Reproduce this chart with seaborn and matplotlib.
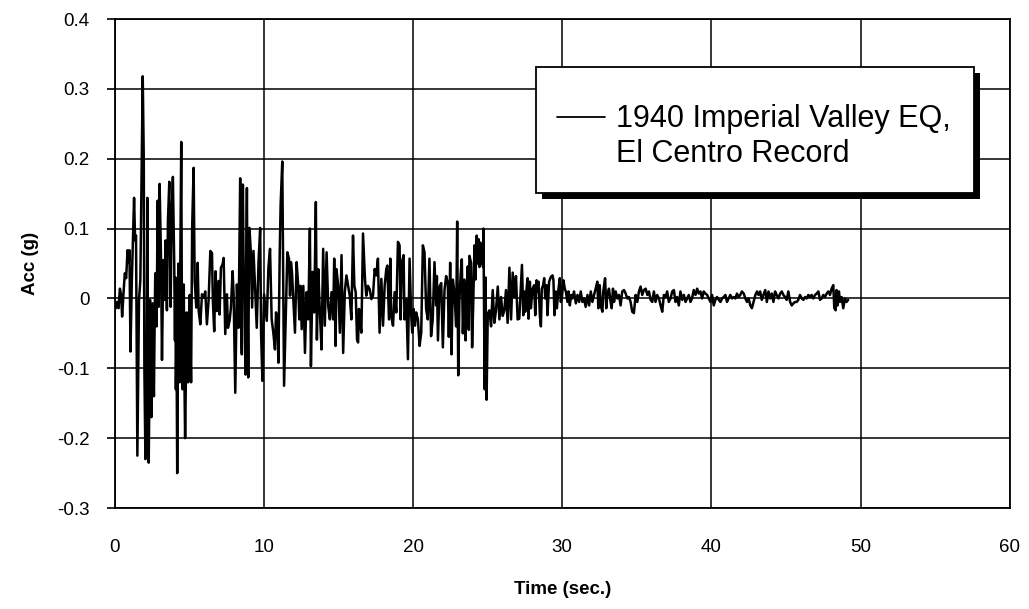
import matplotlib
matplotlib.use("Agg")
import matplotlib.pyplot as plt
import pandas as pd
import seaborn as sns
from matplotlib.lines import Line2D
from matplotlib.patches import Rectangle

# ---------------- data ----------------
# strong-motion phase, 0 - 5.2 s
T_0_5 = [0.00, 0.09, 0.18, 0.27, 0.36, 0.44, 0.51, 0.60, 0.69, 0.78, 0.87, 0.96, 1.00, 1.07, 1.16, 1.24, 1.31, 1.38, 1.44,
         1.53, 1.64, 1.73, 1.80, 1.89, 1.96, 2.00,
         2.07, 2.10, 2.13, 2.16, 2.20, 2.23, 2.26, 2.29, 2.33, 2.38, 2.42, 2.47, 2.51, 2.56, 2.60, 2.64, 2.68, 2.73,
         2.82, 2.89, 2.96, 3.02, 3.11, 3.18, 3.27, 3.36, 3.42, 3.51, 3.58, 3.67, 3.76, 3.82, 3.91, 4.00,
         4.05, 4.08, 4.11, 4.15, 4.20, 4.25, 4.29, 4.32, 4.36, 4.41, 4.47, 4.51, 4.56, 4.60, 4.64, 4.68, 4.73, 4.78,
         4.84, 4.88, 4.93, 4.98, 5.04, 5.08, 5.13, 5.20]
A_0_5 = [-0.002, -0.014, -0.005, -0.014, 0.014, 0.005, -0.026, 0.007, 0.036, 0.029, 0.069, 0.052, 0.069, -0.076, 0.026,
         0.088, 0.144, 0.083, 0.090,
         -0.225, -0.002, 0.026, 0.150, 0.318, 0.200, -0.100,
         -0.230, -0.180, -0.220, -0.050, 0.144, -0.100, -0.200, -0.235, -0.150, -0.002, -0.120, -0.170, -0.060, -0.007,
         -0.100, -0.140, -0.050, 0.036,
         -0.040, 0.140, -0.012, 0.164, 0.064, -0.088, 0.055, -0.002, 0.083, -0.017, 0.112, 0.167, -0.012, 0.112, 0.174,
         0.050,
         -0.060, 0.030, -0.130, -0.050, -0.250, -0.080, 0.050, -0.060, -0.120, 0.060, 0.224, 0.000, -0.130, -0.060,
         0.020, -0.110, -0.200, -0.120, -0.020, -0.080, -0.120, -0.040, 0.005, -0.060, -0.120, 0.100]

# 5.3 - 10.3 s
T_5_10 = [5.30, 5.37, 5.48, 5.57, 5.64, 5.75, 5.86, 5.97, 6.08, 6.19, 6.30,
          6.42, 6.53, 6.59, 6.68, 6.77, 6.86, 6.97, 7.04, 7.13, 7.24, 7.31,
          7.42, 7.53, 7.60, 7.71, 7.80, 7.91, 7.98, 8.09, 8.20, 8.31,
          8.42, 8.47, 8.53, 8.56, 8.60, 8.65, 8.71, 8.74, 8.78, 8.82, 8.87, 8.91, 8.96, 9.00, 9.04,
          9.13, 9.22, 9.31, 9.42, 9.53, 9.65, 9.76, 9.82, 9.91, 10.02, 10.11, 10.20, 10.31]
A_5_10 = [0.187, 0.025, -0.013, 0.051, -0.018, -0.037, 0.006, 0.001, 0.010, -0.037, -0.004,
          0.068, 0.065, -0.004, -0.047, 0.039, -0.018, 0.025, -0.023, 0.044, 0.049, 0.058,
          -0.051, 0.006, -0.042, -0.032, -0.013, 0.039, 0.006, -0.135, 0.020, -0.042,
          0.172, -0.020, -0.080, 0.050, 0.163, 0.040, 0.025, -0.060, -0.109, 0.050, 0.158, 0.000, -0.113, 0.020, 0.101,
          0.068, -0.013, 0.068, 0.015, -0.042, 0.053, 0.101, -0.051, -0.118, 0.006, -0.013, -0.032, 0.044]

# 10.4 - 15.7 s
T_10_15 = [10.42, 10.53, 10.64, 10.75, 10.82, 10.91, 10.98, 11.07, 11.13, 11.24, 11.36, 11.49, 11.58, 11.69,
           11.76, 11.82, 11.89, 11.98, 12.09, 12.20, 12.31, 12.38, 12.47, 12.54, 12.65, 12.76, 12.87, 12.98,
           13.09, 13.16, 13.27, 13.38, 13.49, 13.56, 13.65, 13.76, 13.87, 13.98, 14.09, 14.21, 14.32, 14.43,
           14.54, 14.65, 14.72, 14.81, 14.87, 14.99, 15.10, 15.21, 15.32, 15.43, 15.54, 15.65]
A_10_15 = [0.071, -0.030, -0.049, -0.073, -0.020, -0.030, -0.092, 0.066, 0.134, 0.196, -0.125, -0.011, 0.066, 0.057,
           0.004, 0.052, 0.038, -0.001, -0.049, 0.052, 0.018, -0.030, 0.018, -0.044, 0.018, -0.078, 0.009, -0.030,
           0.100, -0.097, 0.038, -0.020, 0.138, -0.059, 0.042, -0.020, -0.073, 0.071, -0.039, 0.066, -0.011, -0.030,
           0.009, -0.030, 0.057, -0.068, 0.042, 0.018, -0.049, 0.062, -0.078, 0.009, 0.033, 0.018]

# 15.8 - 21.6 s
T_15_21 = [15.76, 15.87, 15.98, 16.07, 16.16, 16.25, 16.32, 16.38, 16.43, 16.54, 16.65, 16.78, 16.87, 16.98,
           17.10, 17.21, 17.32, 17.43, 17.54, 17.65, 17.76, 17.88, 17.99, 18.10, 18.21, 18.28, 18.39, 18.48,
           18.54, 18.66, 18.77, 18.88, 18.99, 19.10, 19.17, 19.26, 19.37, 19.43, 19.55, 19.66, 19.77, 19.88,
           19.95, 20.04, 20.13, 20.21, 20.33, 20.44, 20.55, 20.66, 20.77, 20.88, 20.99, 21.10, 21.21, 21.32,
           21.44, 21.55]
A_15_21 = [0.004, -0.030, 0.090, 0.018, 0.009, -0.059, -0.063, -0.015, -0.030, -0.049, 0.093, 0.028, 0.004, 0.018,
           0.013, -0.001, 0.004, 0.042, 0.033, 0.057, -0.049, 0.028, -0.039, 0.018, 0.042, 0.047, -0.030, 0.057,
           -0.025, -0.039, 0.009, -0.020, 0.081, 0.076, -0.030, 0.052, 0.062, -0.030, -0.001, -0.087, 0.057, -0.025,
           -0.049, -0.015, -0.039, -0.020, -0.030, -0.068, -0.049, 0.076, 0.066, -0.015, -0.030, 0.057, -0.054, -0.030,
           0.052, -0.010]

# 21.6 - 27.0 s
T_21_27 = [21.60, 21.67, 21.78, 21.89, 22.00, 22.11, 22.22, 22.33, 22.40, 22.49, 22.58, 22.67, 22.78, 22.89,
           22.96, 23.03, 23.11, 23.20, 23.27, 23.34, 23.45, 23.52, 23.60, 23.67, 23.74, 23.78, 23.89, 23.96,
           24.03, 24.12, 24.18, 24.27, 24.33, 24.39, 24.45, 24.51, 24.57, 24.63, 24.69, 24.72, 24.80, 24.86,
           24.93, 25.01, 25.12, 25.23, 25.34, 25.45, 25.56, 25.68, 25.79, 25.90, 26.01, 26.12, 26.23, 26.34,
           26.46, 26.57, 26.68, 26.79, 26.90, 27.01]
A_21_27 = [0.032, -0.060, 0.017, 0.022, -0.070, 0.012, 0.032, 0.022, -0.055, 0.051, -0.080, 0.027, 0.007, -0.040,
           0.110, -0.110, -0.002, 0.037, 0.056, -0.050, 0.027, -0.060, 0.012, 0.046, -0.045, 0.061, 0.051, -0.070,
           -0.012, 0.076, 0.027, 0.090, 0.050, 0.085, 0.045, 0.080, 0.050, 0.075, 0.045, 0.100, -0.130, 0.030,
           -0.145, -0.022, -0.017, -0.040, 0.012, -0.035, -0.017, 0.017, -0.030, 0.002, -0.025, -0.017, 0.012, -0.035,
           0.044, -0.030, 0.037, 0.002, 0.032, -0.030]

# 27.1 - 35.0 s
T_27_35 = [27.12, 27.23, 27.30, 27.39, 27.45, 27.52, 27.61, 27.68, 27.74, 27.83, 27.90, 28.01, 28.12, 28.19,
           28.28, 28.34, 28.41, 28.50, 28.57, 28.63, 28.72, 28.79, 28.86, 28.95, 29.01, 29.12, 29.24, 29.35,
           29.41, 29.48, 29.57, 29.64, 29.75, 29.84, 29.90, 29.97, 30.08, 30.17, 30.24, 30.35, 30.42, 30.51,
           30.59, 30.68, 30.79, 30.91, 31.02, 31.13, 31.24, 31.35, 31.46, 31.57, 31.69, 31.80, 31.91, 32.02,
           32.13, 32.24, 32.35, 32.42, 32.51, 32.58, 32.69, 32.75, 32.87, 32.95, 33.02, 33.13, 33.24, 33.31,
           33.40, 33.47, 33.58, 33.69, 33.80, 33.91, 34.02, 34.14, 34.25, 34.36, 34.47, 34.58, 34.69, 34.80,
           34.92, 35.03]
A_27_35 = [-0.029, 0.019, 0.048, -0.024, 0.010, -0.019, 0.014, 0.029, -0.029, 0.024, -0.014, 0.014, 0.019, -0.024,
           0.026, 0.010, 0.024, -0.024, -0.040, 0.014, 0.019, 0.029, 0.000, 0.019, -0.024, 0.024, 0.031, 0.033,
           0.026, -0.024, 0.010, -0.014, 0.014, 0.029, -0.005, 0.000, 0.026, 0.014, 0.010, -0.005, 0.010, -0.010,
           0.005, 0.000, 0.010, -0.007, 0.005, -0.005, 0.010, -0.005, 0.000, -0.012, 0.005, -0.010, 0.010, -0.005,
           0.005, 0.014, 0.024, -0.014, 0.019, -0.010, -0.019, 0.010, 0.029, -0.014, 0.005, 0.014, -0.005, -0.014,
           0.014, -0.005, 0.010, 0.000, 0.005, -0.010, 0.010, 0.012, 0.007, 0.000, 0.002, -0.005, -0.019, -0.021,
           0.005, -0.005]

# 35.1 - 43.1 s
T_35_43 = [35.14, 35.25, 35.36, 35.47, 35.59, 35.70, 35.81, 35.92, 36.03, 36.14, 36.25, 36.36, 36.48, 36.59,
           36.70, 36.81, 36.92, 37.03, 37.14, 37.26, 37.37, 37.48, 37.59, 37.70, 37.81, 37.92, 38.04, 38.15,
           38.26, 38.37, 38.48, 38.59, 38.70, 38.81, 38.93, 39.04, 39.15, 39.26, 39.37, 39.48, 39.59, 39.71,
           39.82, 39.93, 40.04, 40.15, 40.26, 40.37, 40.49, 40.60, 40.71, 40.82, 40.93, 41.04, 41.15, 41.26,
           41.38, 41.49, 41.60, 41.71, 41.82, 41.93, 42.04, 42.16, 42.27, 42.38, 42.49, 42.60, 42.71, 42.82,
           42.94, 43.05]
A_35_43 = [0.010, 0.017, 0.005, 0.012, 0.014, 0.005, 0.010, -0.002, -0.005, 0.010, -0.005, 0.005, 0.000, -0.010,
           -0.019, 0.005, 0.002, 0.010, -0.005, 0.000, 0.010, 0.012, -0.005, 0.002, -0.010, 0.010, -0.002, 0.005,
           -0.005, 0.000, 0.005, -0.005, 0.000, 0.012, 0.005, 0.014, 0.007, 0.010, 0.000, 0.010, 0.007, 0.005,
           0.000, -0.005, 0.005, -0.010, -0.002, 0.002, -0.002, -0.005, 0.000, 0.002, 0.005, -0.005, 0.000, 0.005,
           0.000, 0.002, 0.000, 0.007, 0.002, 0.005, 0.010, 0.007, 0.000, -0.005, 0.000, -0.010, -0.014, -0.005,
           0.005, 0.010]

# 43.2 - 49.2 s
T_43_49 = [43.15, 43.26, 43.37, 43.48, 43.60, 43.71, 43.82, 43.93, 44.04, 44.15, 44.26, 44.37, 44.49, 44.60,
           44.71, 44.82, 44.93, 45.04, 45.15, 45.27, 45.38, 45.49, 45.60, 45.71, 45.82, 45.93, 46.05, 46.16,
           46.27, 46.38, 46.49, 46.60, 46.71, 46.82, 46.94, 47.05, 47.16, 47.27, 47.38, 47.49, 47.60, 47.72,
           47.83, 47.94, 48.05, 48.16, 48.23, 48.32, 48.38, 48.45, 48.54, 48.61, 48.72, 48.83, 48.94, 49.05,
           49.16]
A_43_49 = [0.005, 0.010, -0.002, 0.005, 0.012, -0.005, 0.010, 0.000, 0.007, -0.005, 0.010, 0.005, 0.000, 0.007,
           0.010, 0.005, 0.002, -0.002, 0.010, -0.005, -0.010, -0.007, -0.005, -0.005, -0.002, 0.005, 0.000, -0.002,
           0.002, 0.000, 0.005, 0.002, 0.005, 0.000, 0.005, 0.007, 0.010, -0.002, 0.000, 0.005, 0.002, 0.007,
           0.010, 0.005, 0.014, 0.019, -0.014, -0.017, 0.012, -0.010, 0.010, -0.005, 0.002, -0.014, 0.000, -0.005,
           -0.002]

X_TICKS = [0, 10, 20, 30, 40, 50, 60]
Y_TICKS = [-0.3, -0.2, -0.1, 0.0, 0.1, 0.2, 0.3, 0.4]
Y_TICK_LABELS = ["-0.3", "-0.2", "-0.1", "0", "0.1", "0.2", "0.3", "0.4"]
LEGEND_LINES = ["1940 Imperial Valley EQ,", "El Centro Record"]
X_LABEL = "Time (sec.)"
Y_LABEL = "Acc (g)"

segments = [(T_0_5, A_0_5), (T_5_10, A_5_10), (T_10_15, A_10_15), (T_15_21, A_15_21),
            (T_21_27, A_21_27), (T_27_35, A_27_35), (T_35_43, A_35_43), (T_43_49, A_43_49)]
time_s, acc_g = [], []
for t_seg, a_seg in segments:
    assert len(t_seg) == len(a_seg), (t_seg[0], len(t_seg), len(a_seg))
    time_s += t_seg
    acc_g += a_seg

# ---------------- style ----------------
sns.set_theme(style="white")
plt.rcParams["font.family"] = ["Liberation Sans", "DejaVu Sans"]
plt.rcParams["text.color"] = "black"
plt.rcParams["axes.labelcolor"] = "black"
plt.rcParams["xtick.color"] = "black"
plt.rcParams["ytick.color"] = "black"

fig = plt.figure(figsize=(10.29, 6.09), dpi=100)
fig.patch.set_facecolor("white")
ax = fig.add_axes([0.1113, 0.1658, 0.8702, 0.8030])

df = pd.DataFrame({"t": time_s, "acc": acc_g})
sns.lineplot(data=df, x="t", y="acc", ax=ax, color="black", linewidth=1.8,
             sort=False, estimator=None, legend=False)

ax.set_xlim(X_TICKS[0], X_TICKS[-1])
ax.set_ylim(Y_TICKS[0], Y_TICKS[-1])
ax.set_xticks(X_TICKS)
ax.set_xticklabels([str(v) for v in X_TICKS])
ax.set_yticks(Y_TICKS)
ax.set_yticklabels(Y_TICK_LABELS)
ax.set_axisbelow(True)
ax.grid(True, color="black", linewidth=1.1)
for sp in ax.spines.values():
    sp.set_color("black")
    sp.set_linewidth(1.3)

ax.tick_params(axis="y", direction="out", length=6, width=1.2, pad=12, labelsize=13.5, left=True)
ax.tick_params(axis="x", length=0, pad=22.5, labelsize=13.5, bottom=True)
ax.set_xlabel(X_LABEL, fontsize=13.5, fontweight="bold", labelpad=17.5)
ax.set_ylabel(Y_LABEL, fontsize=13.5, fontweight="bold", labelpad=13)

# legend box with drop shadow (axes-fraction coordinates)
box_x0, box_y0, box_w, box_h = 0.4707, 0.6442, 0.4891, 0.2576
ax.add_patch(Rectangle((box_x0 + 0.0067, box_y0 - 0.0123), box_w, box_h, transform=ax.transAxes,
                       facecolor="black", edgecolor="none", zorder=9.5, clip_on=False))
ax.add_patch(Rectangle((box_x0, box_y0), box_w, box_h, transform=ax.transAxes,
                       facecolor="white", edgecolor="black", linewidth=1.3, zorder=9.6, clip_on=False))

handles = [Line2D([], [], color="black", linewidth=1.3),
           Line2D([], [], color="none", linewidth=1.3)]
leg = ax.legend(handles, LEGEND_LINES, loc="upper left", bbox_to_anchor=(0.4941, 0.8252),
                borderaxespad=0, borderpad=0, frameon=False, fontsize=22,
                labelspacing=0.15, handlelength=1.57, handletextpad=0.36)
leg.set_zorder(10)

fig.savefig("out.png", dpi=100)
